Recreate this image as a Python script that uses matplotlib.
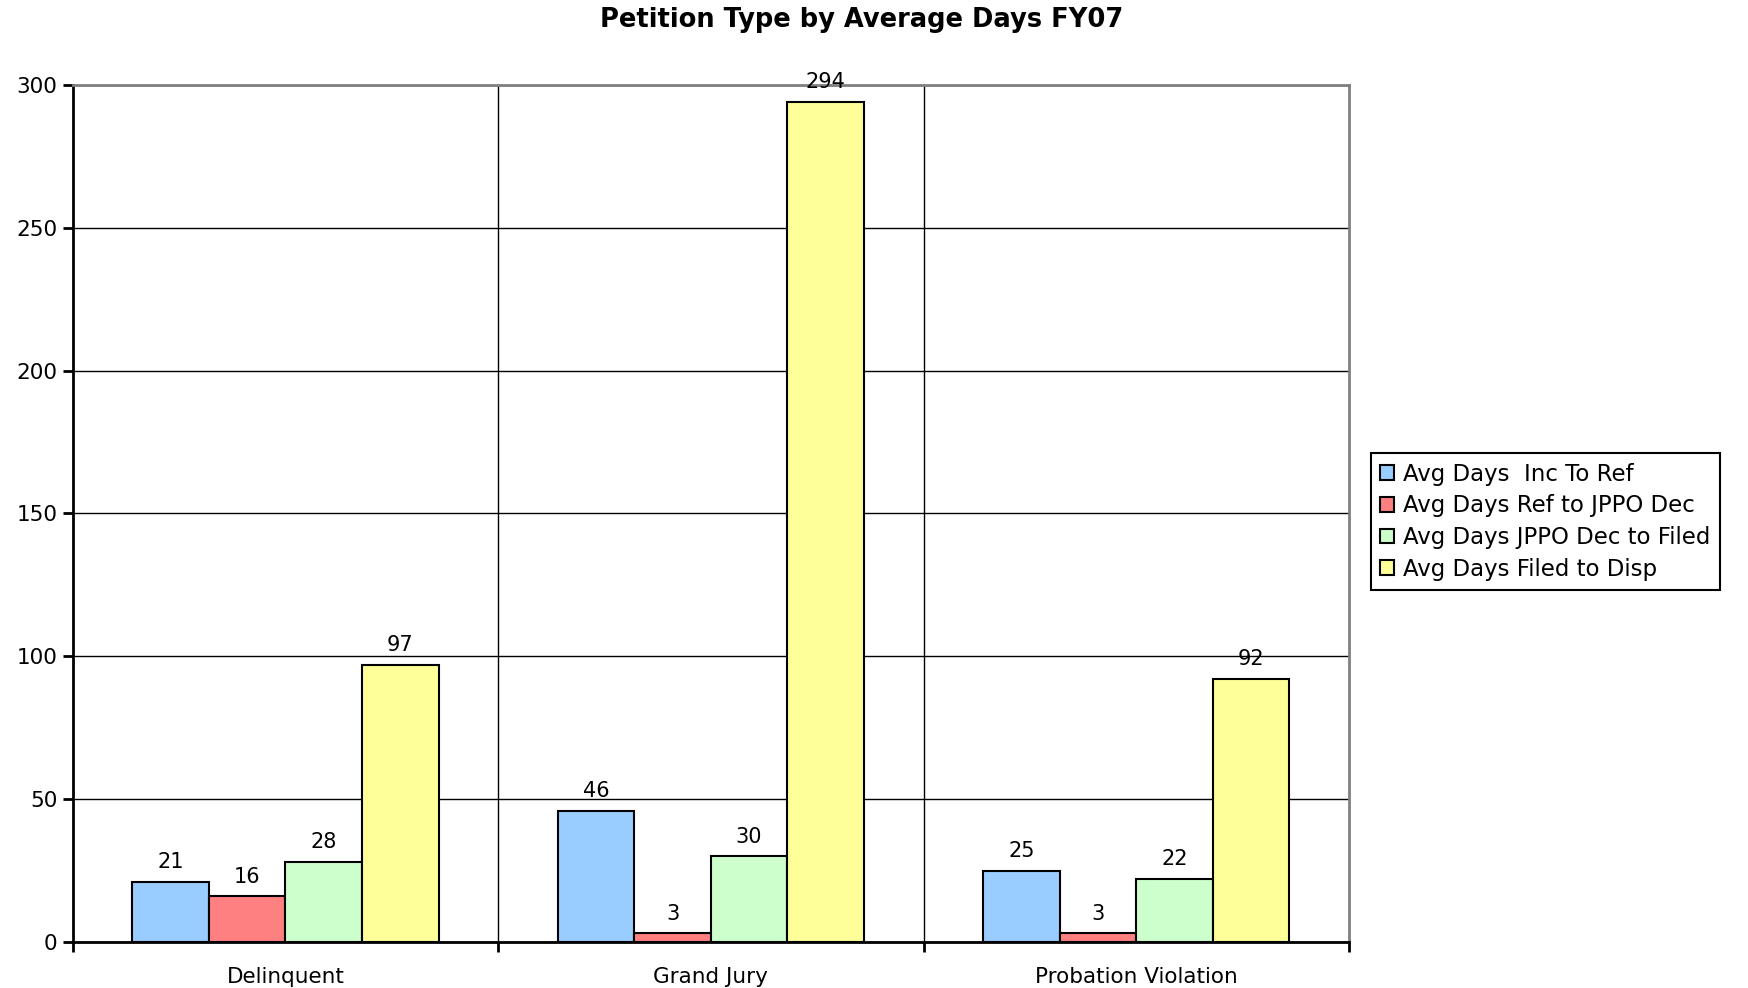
import numpy as np
import matplotlib
matplotlib.use("Agg")
import matplotlib.pyplot as plt

plt.rcParams['font.family'] = ['DejaVu Sans']

# chart data
categories = ["Delinquent", "Grand Jury", "Probation Violation"]
series = ["Avg Days  Inc To Ref", "Avg Days Ref to JPPO Dec",
          "Avg Days JPPO Dec to Filed", "Avg Days Filed to Disp"]
inc_to_ref = [21, 46, 25]
ref_to_dec = [16, 3, 3]
dec_to_filed = [28, 30, 22]
filed_to_disp = [97, 294, 92]
colors = ["#99CCFF", "#FF8080", "#CCFFCC", "#FFFF99"]

values = [inc_to_ref, ref_to_dec, dec_to_filed, filed_to_disp]

fig = plt.figure(figsize=(17.48, 9.88), dpi=100)
ax = fig.add_axes([0.0416, 0.0466, 0.7301, 0.8674])

x = np.arange(len(categories))
w = 0.18
for i, (vals, name, c) in enumerate(zip(values, series, colors)):
    pos = x + (i - 1.5) * w
    bars = ax.bar(pos, vals, w, color=c, edgecolor="black", linewidth=1.5,
                  label=name, zorder=3)
    for b, v in zip(bars, vals):
        ax.annotate(str(v), (b.get_x() + b.get_width() / 2, v),
                    xytext=(0, 7), textcoords="offset points",
                    ha="center", va="bottom", fontsize=15)

ax.set_xlim(-0.5, 2.5)
ax.set_ylim(0, 300)
ax.set_yticks(range(0, 301, 50))
ax.yaxis.grid(True, color="black", linewidth=1, zorder=0)
for sep in [0.5, 1.5]:
    ax.axvline(sep, color="black", linewidth=1, zorder=0)

ax.set_xticks([-0.5, 0.5, 1.5, 2.5])
ax.set_xticklabels([])
ax.set_xticks(x, minor=True)
ax.set_xticklabels(categories, minor=True, fontsize=15.5)
ax.tick_params(axis="x", which="minor", length=0, pad=18)
ax.tick_params(axis="x", which="major", length=7, width=2, direction="out")
ax.tick_params(axis="y", length=7, width=2, direction="out", labelsize=15.5, pad=4)

ax.spines["left"].set_linewidth(2)
ax.spines["bottom"].set_linewidth(2)
ax.spines["top"].set_color("#808080")
ax.spines["right"].set_color("#808080")
ax.spines["top"].set_linewidth(2)
ax.spines["right"].set_linewidth(2)

fig.suptitle("Petition Type by Average Days FY07", x=0.493, y=0.993,
             fontsize=18.5, fontweight="bold")

leg = fig.legend(loc="center left", bbox_to_anchor=(0.7844, 0.472),
                 fontsize=16.5, handlelength=0.6, handleheight=0.6,
                 handletextpad=0.4, labelspacing=0.38, borderpad=0.4,
                 borderaxespad=0, fancybox=False, framealpha=1)
leg.get_frame().set_edgecolor("black")
leg.get_frame().set_linewidth(1.5)

fig.savefig("out.png", dpi=100)
